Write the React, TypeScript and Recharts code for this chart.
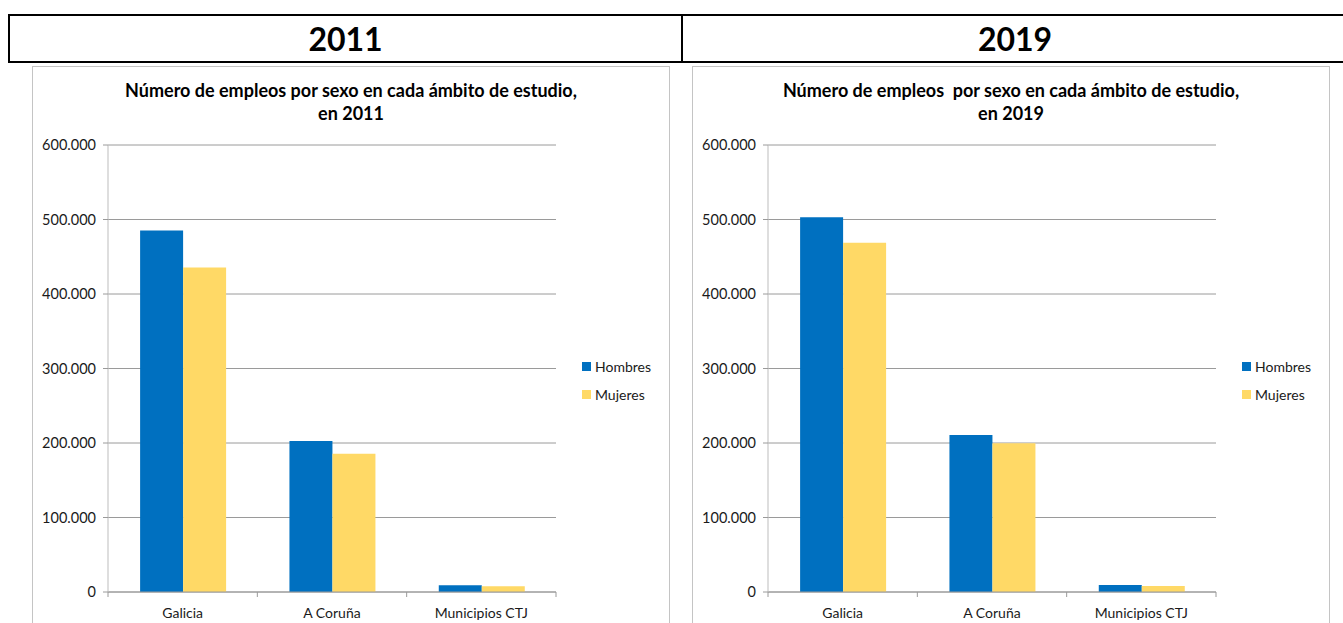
import React from 'react';
import { BarChart, Bar, XAxis, YAxis, CartesianGrid } from 'recharts';

const categories = ['Galicia', 'A Coruña', 'Municipios CTJ'];
const seriesNames = ['Hombres', 'Mujeres'];
const hombres2011 = [485100, 202700, 8900];
const mujeres2011 = [435500, 185500, 7600];
const hombres2019 = [503000, 210800, 9500];
const mujeres2019 = [468900, 199600, 8100];
const yTicks = [0, 100000, 200000, 300000, 400000, 500000, 600000];
const years = ['2011', '2019'];
const titleLine1 = [
  'Número de empleos por sexo en cada ámbito de estudio,',
  'Número de empleos  por sexo en cada ámbito de estudio,',
];

const COLORS = ['#0070C0', '#FFD966'];
const FONT = 'Lato, "Noto Sans", sans-serif';
const GRID = '#9a9a9a';
const AXIS = '#bdbdbd';

const buildData = (h: number[], m: number[]) =>
  categories.map((c, i) => ({ name: c, Hombres: h[i], Mujeres: m[i] }));

const fmt = (v: number) => v.toLocaleString('de-DE');

const CatTick = (props: any) => {
  const { x, y, payload, index, visibleTicksCount } = props;
  const half = payload.offset || 0;
  const isLast = index === visibleTicksCount - 1;
  return (
    <g>
      <line x1={x - half} x2={x - half} y1={y - 16} y2={y - 11} stroke={GRID} />
      {isLast && <line x1={x + half} x2={x + half} y1={y - 16} y2={y - 11} stroke={GRID} />}
      <text x={x} y={y} dy="0.71em" textAnchor="middle" fill="#1a1a1a" fontSize={14} fontFamily={FONT}>
        {payload.value}
      </text>
    </g>
  );
};

const ChartPanel = ({ left, year, line1, data }: { left: number; year: string; line1: string; data: any[] }) => (
  <div
    style={{
      position: 'absolute',
      left,
      top: 66,
      width: 636,
      height: 580,
      border: '1px solid #c4c4c4',
      background: '#fff',
    }}
  >
    <div
      style={{
        position: 'absolute',
        left: 0,
        width: 636,
        top: 12,
        textAlign: 'center',
        fontFamily: FONT,
        fontWeight: 700,
        fontSize: 18,
        lineHeight: '23px',
        color: '#000',
        whiteSpace: 'pre',
      }}
    >
      <div>{line1}</div>
      <div>{'en ' + year}</div>
    </div>
    <div style={{ position: 'absolute', left: 0, top: 0 }}>
      <BarChart
        width={636}
        height={570}
        data={data}
        margin={{ top: 78, right: 113, bottom: 15, left: 0 }}
        barCategoryGap="21.5%"
        barGap={0}
      >
        <CartesianGrid vertical={false} stroke={GRID} strokeWidth={1} />
        <XAxis
          dataKey="name"
          height={30}
          axisLine={{ stroke: GRID }}
          tickLine={false}
          tickSize={5}
          tickMargin={11}
          tick={<CatTick />}
          interval={0}
        />
        <YAxis
          width={75}
          domain={[0, 600000]}
          ticks={yTicks}
          interval={0}
          tickFormatter={fmt}
          axisLine={{ stroke: AXIS }}
          tickLine={{ stroke: GRID }}
          tickSize={5}
          tickMargin={7}
          tick={{ fill: '#1a1a1a', fontSize: 14.5, fontFamily: FONT }}
        />
        {seriesNames.map((s, i) => (
          <Bar key={s} dataKey={s} fill={COLORS[i]} isAnimationActive={false} />
        ))}
      </BarChart>
    </div>
    {seriesNames.map((s, i) => (
      <div
        key={s}
        style={{
          position: 'absolute',
          left: 549,
          top: 290 + i * 28,
          display: 'flex',
          alignItems: 'center',
          fontFamily: FONT,
          fontSize: 14,
          color: '#1a1a1a',
          height: 18,
        }}
      >
        <span style={{ display: 'inline-block', width: 9, height: 9, background: COLORS[i], marginRight: 4 }} />
        <span>{s}</span>
      </div>
    ))}
  </div>
);

export default function App() {
  const datasets = [buildData(hombres2011, mujeres2011), buildData(hombres2019, mujeres2019)];
  return (
    <div
      style={{
        position: 'absolute',
        left: 0,
        top: 0,
        width: 1343,
        height: 623,
        overflow: 'hidden',
        background: '#fff',
      }}
    >
      <div
        style={{
          position: 'absolute',
          left: 8,
          top: 14,
          width: 1345,
          height: 45,
          border: '2px solid #000',
        }}
      />
      <div style={{ position: 'absolute', left: 681, top: 14, width: 2, height: 49, background: '#000' }} />
      {years.map((y, i) => (
        <div
          key={y}
          style={{
            position: 'absolute',
            left: i === 0 ? 10 : 683,
            width: i === 0 ? 671 : 664,
            top: 16,
            height: 45,
            lineHeight: '45px',
            textAlign: 'center',
            fontFamily: FONT,
            fontWeight: 700,
            fontSize: 32,
            color: '#000',
          }}
        >
          {y}
        </div>
      ))}
      {years.map((y, i) => (
        <ChartPanel key={y} left={i === 0 ? 32 : 692} year={y} line1={titleLine1[i]} data={datasets[i]} />
      ))}
    </div>
  );
}
